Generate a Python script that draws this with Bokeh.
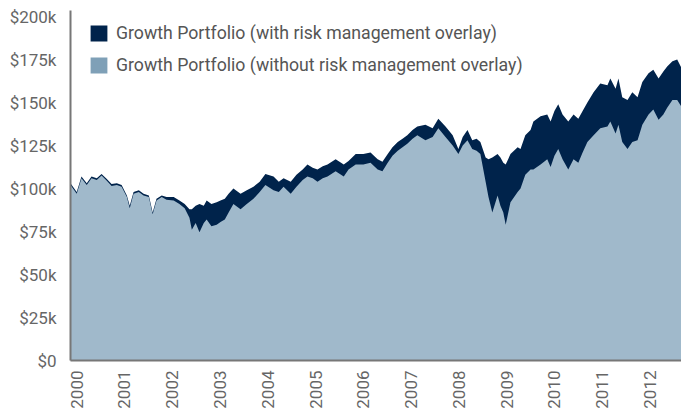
import math
from bokeh.plotting import figure
from bokeh.models import ColumnDataSource, Range1d, FixedTicker, Legend, LegendItem
from bokeh.embed import file_html
from bokeh.resources import INLINE

# ---- data (values in $ thousands) ----
years = [
    1999.87, 2000.00, 2000.10, 2000.21, 2000.31, 2000.42, 2000.52, 2000.63, 2000.73, 2000.84, 2000.94,
    2001.05, 2001.11, 2001.19, 2001.30, 2001.40, 2001.51, 2001.59, 2001.67, 2001.78, 2001.88,
    2002.03, 2002.15, 2002.26, 2002.36, 2002.41, 2002.49, 2002.57, 2002.66, 2002.72, 2002.82, 2002.93,
    2003.01, 2003.10, 2003.18, 2003.28, 2003.43, 2003.56, 2003.70, 2003.83, 2003.95,
    2004.12, 2004.23, 2004.33, 2004.48, 2004.60, 2004.73, 2004.83, 2004.94,
    2005.04, 2005.15, 2005.25, 2005.42, 2005.59, 2005.69, 2005.84,
    2006.00, 2006.15, 2006.30, 2006.40, 2006.51, 2006.61, 2006.72, 2006.82, 2006.92,
    2007.03, 2007.13, 2007.30, 2007.45, 2007.57, 2007.72, 2007.87, 2007.99,
    2008.08, 2008.18, 2008.28, 2008.37, 2008.45, 2008.56, 2008.62, 2008.70, 2008.81, 2008.87, 2008.93, 2008.98,
    2009.08, 2009.23, 2009.29, 2009.39, 2009.50, 2009.56, 2009.71, 2009.85, 2009.92,
    2010.00, 2010.08, 2010.17, 2010.29, 2010.40, 2010.50, 2010.59, 2010.69, 2010.82, 2010.96,
    2011.11, 2011.17, 2011.28, 2011.34, 2011.42, 2011.53, 2011.63, 2011.74, 2011.84, 2011.97,
    2012.07, 2012.18, 2012.28, 2012.36, 2012.47, 2012.57, 2012.66,
]

with_overlay = [
    103, 98, 107, 103, 107, 106, 108.5, 105.5, 102.6, 103, 102,
    96, 90, 98, 99, 97, 96, 86, 94, 96, 95,
    95, 93, 91, 88, 88, 90, 91, 90, 93, 91, 92,
    93, 94, 97, 100, 97, 99, 101, 104, 108.5,
    107, 104, 106, 104, 108, 111, 114, 112,
    111, 113, 114, 117, 114, 116, 120,
    120, 121, 117, 115.5, 120, 124, 127, 129, 131,
    134, 136, 137, 135, 140.5, 136, 131, 123,
    130, 134, 128, 129, 127, 118, 117, 118, 120, 118, 115, 114,
    120, 124, 123, 131, 134, 139, 142, 143, 139,
    145, 149, 143, 139, 143, 140.5, 145, 150, 156, 161,
    160, 164, 158, 164, 153, 151.5, 156, 153, 162, 167,
    169, 164, 168, 171, 174, 175, 170,
]

without_overlay = [
    102, 97, 106, 102, 106, 105, 107.5, 104.5, 101.5, 102, 101,
    95, 88.5, 97, 98, 96, 95, 85, 93, 95, 93.5,
    93, 91, 88.5, 83, 76, 80, 74.5, 80, 82, 78, 79,
    80.5, 82, 86, 91, 88, 91, 94, 98, 102,
    99, 98, 101, 97, 101, 105, 107, 106,
    104, 106, 107, 110, 107, 111, 114,
    114, 115, 111, 110, 115, 119, 122, 124, 126,
    129, 131, 128, 130, 135, 130, 125, 120,
    125, 128, 123, 122, 120, 104, 95, 86, 96, 90, 86, 79,
    92, 98, 100, 108, 111, 111, 114, 117, 112.5,
    119, 123, 117, 111, 117, 115, 121, 127, 131, 135,
    136, 139, 132, 137, 127, 123, 127, 128, 137, 143,
    146, 140, 143, 147, 151.5, 151.5, 147.5,
]

series_names = [
    "Growth Portfolio (with risk management overlay)",
    "Growth Portfolio (without risk management overlay)",
]

y_ticks = [0, 25, 50, 75, 100, 125, 150, 175, 200]
y_tick_labels = ["$0", "$25k", "$50k", "$75k", "$100k", "$125k", "$150k", "$175k", "$200k"]
x_ticks = [2000, 2001, 2002, 2003, 2004, 2005, 2006, 2007, 2008, 2009, 2010, 2011, 2012]
x_tick_labels = [str(t) for t in x_ticks]

# ---- styles ----
DARK = "#00234b"
LIGHT_KEY = "#7fa0b7"
LIGHT_AREA = "#a0b9cb"
AXIS = "#777777"
TICK_TEXT = "#666666"
FONT = "Roboto"

source = ColumnDataSource(dict(x=years, with_o=with_overlay, without_o=without_overlay))

p = figure(
    width=681, height=419,
    output_backend="svg", toolbar_location=None,
    x_range=Range1d(years[0], years[-1]),
    y_range=Range1d(0, 203.5),
    min_border_left=70, min_border_right=0, min_border_top=10, min_border_bottom=59,
)
p.outline_line_color = None
p.xgrid.visible = False
p.ygrid.visible = False

p.varea(x="x", y1=0, y2="with_o", source=source, fill_color=DARK)
p.varea(x="x", y1=0, y2="without_o", source=source, fill_color=LIGHT_AREA)

# axes
for ax in (p.xaxis[0], p.yaxis[0]):
    ax.axis_line_color = AXIS
    ax.axis_line_width = 2
    ax.major_tick_line_color = None
    ax.minor_tick_line_color = None
    ax.major_tick_out = 0
    ax.major_tick_in = 0
    ax.major_label_text_font = FONT
    ax.major_label_text_font_size = "17px"
    ax.major_label_text_color = TICK_TEXT

p.yaxis.ticker = FixedTicker(ticks=y_ticks)
p.yaxis.major_label_overrides = dict(zip(y_ticks, y_tick_labels))
p.yaxis.major_label_standoff = 14

p.xaxis.ticker = FixedTicker(ticks=x_ticks)
p.xaxis.major_label_overrides = dict(zip(x_ticks, x_tick_labels))
p.xaxis.major_label_orientation = math.pi / 2
p.xaxis.major_label_standoff = 10

# legend key swatches (zero-size quads used only for the legend)
k1 = p.quad(left=[years[0]], right=[years[0]], bottom=[0], top=[0],
            fill_color=DARK, line_color=None)
k2 = p.quad(left=[years[0]], right=[years[0]], bottom=[0], top=[0],
            fill_color=LIGHT_KEY, line_color=None)
legend = Legend(
    items=[LegendItem(label=series_names[0], renderers=[k1]),
           LegendItem(label=series_names[1], renderers=[k2])],
    location=(18, 285),
    border_line_color=None, background_fill_alpha=0,
    glyph_width=21, glyph_height=20, label_height=20,
    label_standoff=7, spacing=12, padding=0, margin=0,
    label_text_font=FONT, label_text_font_size="17.7px", label_text_color="#555555",
)
p.add_layout(legend)

open("out.html", "w").write(file_html(p, INLINE))
